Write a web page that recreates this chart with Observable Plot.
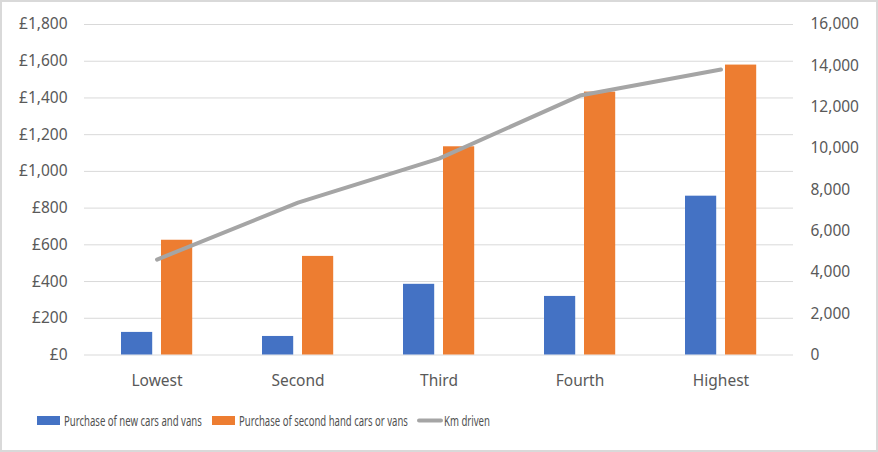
<!DOCTYPE html>
<html>
<head>
<meta charset="utf-8">
<script src="https://cdn.jsdelivr.net/npm/d3@7"></script>
<script src="https://cdn.jsdelivr.net/npm/@observablehq/plot@0.6"></script>
<style>
  html, body { margin: 0; padding: 0; background: #fff; }
  #wrap { position: relative; width: 878px; height: 452px; overflow: hidden; background: #fff; }
  #wrap svg { position: absolute; left: 0; }
  #frame { position: absolute; left: 0; top: 0; width: 878px; height: 452px; box-sizing: border-box; border: 2px solid #d9d9d9; pointer-events: none; }
</style>
</head>
<body>
<div id="wrap"><div id="frame"></div></div>
<script>
const categories = ["Lowest", "Second", "Third", "Fourth", "Highest"];
const newCars = [123, 101, 385, 319, 865];
const secondHand = [625, 537, 1134, 1432, 1579];
const kmDriven = [4620, 7380, 9510, 12560, 13820];
const leftTicks = [0, 200, 400, 600, 800, 1000, 1200, 1400, 1600, 1800];
const rightTicks = [0, 2000, 4000, 6000, 8000, 10000, 12000, 14000, 16000];
const seriesNames = ["Purchase of new cars and vans", "Purchase of second hand cars or vans", "Km driven"];
const colors = ["#4472c4", "#ed7d31", "#a5a5a5"];

const LEFT_MAX = 1800, RIGHT_MAX = 16000;
const k = LEFT_MAX / RIGHT_MAX;

const barsNew = categories.map((c, i) => ({cat: c, v: newCars[i]}));
const barsSecond = categories.map((c, i) => ({cat: c, v: secondHand[i]}));
const lineData = categories.map((c, i) => ({cat: c, v: kmDriven[i] * k}));

const W = 878, H = 395;
const mL = 84, mR = 85;
const bw = (W - mL - mR) / categories.length;

const font = "'Noto Sans', 'DejaVu Sans', sans-serif";
const textColor = "#595959";

const chart = Plot.plot({
  width: W,
  height: H,
  marginLeft: mL,
  marginRight: mR,
  marginTop: 24,
  marginBottom: H - 354.5,
  style: {fontFamily: font, fontSize: "15.5px", color: textColor, background: "transparent"},
  x: {domain: categories, type: "band", padding: 0, label: null},
  y: {domain: [0, LEFT_MAX], label: null},
  marks: [
    Plot.gridY(leftTicks, {stroke: "#d9d9d9", strokeOpacity: 1, strokeWidth: 1}),
    Plot.barY(barsNew, {x: "cat", y: "v", fill: colors[0], insetLeft: 35, insetRight: bw - 67}),
    Plot.barY(barsSecond, {x: "cat", y: "v", fill: colors[1], insetLeft: 75, insetRight: bw - 107}),
    Plot.line(lineData, {x: "cat", y: "v", stroke: colors[2], strokeWidth: 4, strokeLinecap: "round", strokeLinejoin: "round"}),
    Plot.axisX({tickSize: 0, tickPadding: 20, label: null, fill: textColor, fontSize: 15.5}),
    Plot.axisY(leftTicks, {anchor: "left", tickSize: 0, tickPadding: 17, label: null, fill: textColor,
      tickFormat: d => "£" + d3.format(",")(d)}),
    Plot.axisY(rightTicks.map(t => t * k), {anchor: "right", tickSize: 0, tickPadding: 17, label: null, fill: textColor,
      textAnchor: "start",
      tickFormat: d => d3.format(",")(Math.round(d / k))})
  ]
});
chart.style.top = "0px";
const wrap = document.getElementById("wrap");
wrap.insertBefore(chart, wrap.firstChild);

// Legend below the chart
const LH = 452 - H;
const leg = d3.create("svg").attr("width", W).attr("height", LH).style("top", H + "px")
  .attr("font-family", font).attr("font-size", 14.5).attr("fill", "#505050");
wrap.insertBefore(leg.node(), document.getElementById("frame"));
const items = [
  {sx: 37, sw: 23, tx: 64, tw: 138, type: "rect"},
  {sx: 212, sw: 23, tx: 239, tw: 169, type: "rect"},
  {sx: 417, sw: 26, tx: 444, tw: 46, type: "line"}
];
items.forEach((it, i) => {
  if (it.type === "rect") {
    leg.append("rect").attr("x", it.sx).attr("y", 21).attr("width", it.sw).attr("height", 9).attr("fill", colors[i]);
  } else {
    leg.append("line").attr("x1", it.sx + 2).attr("x2", it.sx + it.sw - 2).attr("y1", 25.5).attr("y2", 25.5)
      .attr("stroke", colors[i]).attr("stroke-width", 4).attr("stroke-linecap", "round");
  }
  const t = leg.append("text").attr("x", 0).attr("y", 0).text(seriesNames[i]);
  const natural = t.node().getComputedTextLength() || it.tw;
  const sx = it.tw / natural;
  t.attr("transform", `translate(${it.tx},30.5) scale(${sx},1)`);
});
</script>
</body>
</html>
